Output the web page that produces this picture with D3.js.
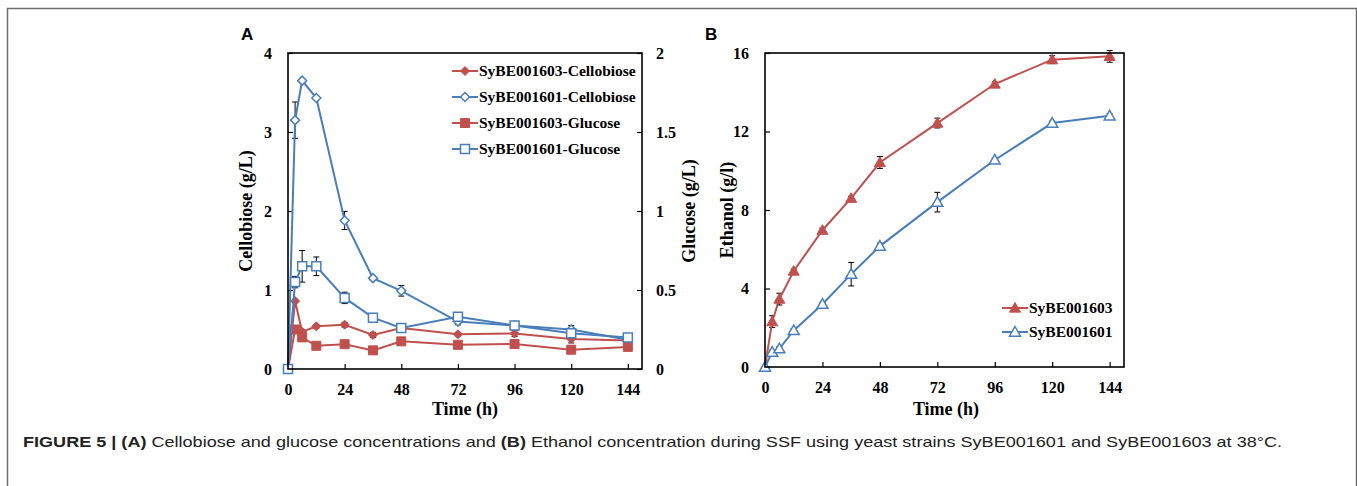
<!DOCTYPE html>
<html>
<head>
<meta charset="utf-8">
<script src="https://cdn.jsdelivr.net/npm/d3@7"></script>
<style>
  body { margin: 0; background: #fff; }
  svg { display: block; }
</style>
</head>
<body>
<div id="chart"></div>
<script>
// sampling times (h)
var times = [0, 3, 6, 12, 24, 36, 48, 72, 96, 120, 144];

// panel A - cellobiose (left axis, g/L)
var cello1603 = [0, 0.86, 0.47, 0.54, 0.56, 0.43, 0.52, 0.44, 0.45, 0.38, 0.36];
var cello1603Err = [0, 0.02, 0.03, 0.02, 0.03, 0.03, 0.04, 0.02, 0.04, 0.05, 0.02];
var cello1601 = [0, 3.15, 3.65, 3.43, 1.88, 1.15, 0.99, 0.60, 0.55, 0.50, 0.37];
var cello1601Err = [0, 0.23, 0.02, 0.02, 0.115, 0.03, 0.067, 0.04, 0.04, 0.05, 0.03];

// panel A - glucose (right axis, g/L)
var glu1603 = [0, 0.25, 0.20, 0.147, 0.157, 0.118, 0.175, 0.153, 0.158, 0.122, 0.14];
var glu1603Err = [0, 0.01, 0.01, 0.01, 0.01, 0.01, 0.01, 0.01, 0.02, 0.01, 0.01];
var glu1601 = [0, 0.55, 0.65, 0.65, 0.45, 0.325, 0.26, 0.33, 0.275, 0.227, 0.20];
var glu1601Err = [0, 0.036, 0.1, 0.059, 0.036, 0.026, 0.01, 0.02, 0.02, 0.02, 0.015];

// panel B - ethanol (g/l)
var eth1603 = [0, 2.31, 3.46, 4.89, 6.97, 8.6, 10.42, 12.43, 14.42, 15.66, 15.83];
var eth1603Err = [0, 0.3, 0.3, 0.1, 0.1, 0.1, 0.3, 0.25, 0.1, 0.2, 0.3];
var eth1601 = [0, 0.76, 0.93, 1.86, 3.2, 4.73, 6.16, 8.4, 10.55, 12.43, 12.8];
var eth1601Err = [0, 0.1, 0.1, 0.1, 0.1, 0.6, 0.15, 0.5, 0.1, 0.1, 0.1];

var xTicks = [0, 24, 48, 72, 96, 120, 144];
var cellTicks = [0, 1, 2, 3, 4];
var gluTicks = [0, 0.5, 1, 1.5, 2];
var ethTicks = [0, 4, 8, 12, 16];

var legendA = ["SyBE001603-Cellobiose", "SyBE001601-Cellobiose", "SyBE001603-Glucose", "SyBE001601-Glucose"];
var legendB = ["SyBE001603", "SyBE001601"];

var red = "#C0504D", blue = "#4A7EBB";
var serif = '"Liberation Serif", "Times New Roman", serif';
var sans = '"Liberation Sans", Arial, sans-serif';
var plain = d3.format("");

// marker shapes, centered at 0,0
function shape(kind, r) {
    if (kind == "diamond") return "M0," + (-r) + "L" + r + ",0L0," + r + "L" + (-r) + ",0Z";
    if (kind == "square") return "M" + (-r) + "," + (-r) + "H" + r + "V" + r + "H" + (-r) + "Z";
    return "M0," + (-r) + "L" + r + "," + (r * 0.75) + "L" + (-r) + "," + (r * 0.75) + "Z"; // triangle
}

var svg = d3.select("#chart").append("svg")
    .attr("width", 1357)
    .attr("height", 486);

// outer frame (open at the bottom)
svg.append("path")
    .attr("d", "M7.5,490V8.5H1356.5V490")
    .attr("fill", "none")
    .attr("stroke", "#6e6e6e")
    .attr("stroke-width", 1.5);

function styleAxis(g) {
    g.select(".domain").remove();
    g.selectAll(".tick line").attr("stroke", "#000").attr("stroke-width", 1.2);
    g.selectAll(".tick text")
        .attr("fill", "#000")
        .style("font-family", serif)
        .style("font-weight", "bold")
        .style("font-size", "16px");
}

function drawSeries(g, x, y, vals, errs, color, kind, r, filled) {
    var pts = times.map(function(t, i) { return { t: t, v: vals[i], e: errs[i] }; });

    var eb = g.append("g");
    pts.forEach(function(d) {
        if (d.e <= 0) return;
        var cx = x(d.t), y1 = y(d.v - d.e), y2 = y(d.v + d.e);
        eb.append("line").attr("x1", cx).attr("x2", cx).attr("y1", y1).attr("y2", y2);
        eb.append("line").attr("x1", cx - 3).attr("x2", cx + 3).attr("y1", y1).attr("y2", y1);
        eb.append("line").attr("x1", cx - 3).attr("x2", cx + 3).attr("y1", y2).attr("y2", y2);
    });
    eb.selectAll("line").attr("stroke", "#000").attr("stroke-width", 1);

    g.append("path")
        .datum(pts)
        .attr("fill", "none")
        .attr("stroke", color)
        .attr("stroke-width", 2)
        .attr("d", d3.line().x(function(d) { return x(d.t); }).y(function(d) { return y(d.v); }));

    g.selectAll(null)
        .data(pts)
        .enter()
        .append("path")
        .attr("transform", function(d) { return "translate(" + x(d.t) + "," + y(d.v) + ")"; })
        .attr("d", shape(kind, r))
        .attr("fill", filled ? color : "#fff")
        .attr("stroke", color)
        .attr("stroke-width", filled ? 1 : 1.5);
}

function legendRow(g, x0, yy, text, color, kind, r, filled) {
    g.append("line")
        .attr("x1", x0).attr("x2", x0 + 26)
        .attr("y1", yy).attr("y2", yy)
        .attr("stroke", color).attr("stroke-width", 2);
    g.append("path")
        .attr("transform", "translate(" + (x0 + 13) + "," + yy + ")")
        .attr("d", shape(kind, r))
        .attr("fill", filled ? color : "#fff")
        .attr("stroke", color)
        .attr("stroke-width", filled ? 1 : 1.5);
    g.append("text")
        .attr("x", x0 + 27)
        .attr("y", yy + 5)
        .style("font-family", serif)
        .style("font-weight", "bold")
        .style("font-size", "15.5px")
        .text(text);
}

function frame(g, w, h) {
    g.append("rect")
        .attr("width", w).attr("height", h)
        .attr("fill", "none")
        .attr("stroke", "#000")
        .attr("stroke-width", 1.6);
}

function axisTitle(x, y, text, rotate) {
    svg.append("text")
        .attr("transform", "translate(" + x + "," + y + ")" + (rotate ? "rotate(-90)" : ""))
        .attr("text-anchor", "middle")
        .style("font-family", serif)
        .style("font-weight", "bold")
        .style("font-size", "18px")
        .text(text);
}

// ---------- panel A ----------
var aL = 288, aT = 53, aW = 354, aH = 316;
var gA = svg.append("g").attr("transform", "translate(" + aL + "," + aT + ")");

var xA = d3.scaleLinear().domain([0, 150]).range([0, aW]);
var yCell = d3.scaleLinear().domain([0, 4]).range([aH, 0]);
var yGlu = d3.scaleLinear().domain([0, 2]).range([aH, 0]);

gA.append("g").attr("transform", "translate(0," + aH + ")")
    .call(d3.axisBottom(xA).tickValues(xTicks).tickSize(-5).tickPadding(15).tickFormat(plain))
    .call(styleAxis);
gA.append("g")
    .call(d3.axisLeft(yCell).tickValues(cellTicks).tickSize(-5).tickPadding(16).tickFormat(plain))
    .call(styleAxis);
gA.append("g").attr("transform", "translate(" + aW + ",0)")
    .call(d3.axisRight(yGlu).tickValues(gluTicks).tickSize(-5).tickPadding(14).tickFormat(plain))
    .call(styleAxis);

drawSeries(gA, xA, yCell, cello1603, cello1603Err, red, "diamond", 4.5, true);
drawSeries(gA, xA, yCell, cello1601, cello1601Err, blue, "diamond", 4.5, false);
drawSeries(gA, xA, yGlu, glu1603, glu1603Err, red, "square", 4.5, true);
drawSeries(gA, xA, yGlu, glu1601, glu1601Err, blue, "square", 4.5, false);
frame(gA, aW, aH);

var legA = svg.append("g");
legendRow(legA, 452, 71, legendA[0], red, "diamond", 4.5, true);
legendRow(legA, 452, 97, legendA[1], blue, "diamond", 4.5, false);
legendRow(legA, 452, 123, legendA[2], red, "square", 4.5, true);
legendRow(legA, 452, 149, legendA[3], blue, "square", 4.5, false);

axisTitle(465, 415, "Time (h)", false);
axisTitle(252, aT + aH / 2, "Cellobiose (g/L)", true);
axisTitle(695, aT + aH / 2, "Glucose (g/L)", true);

// ---------- panel B ----------
var bL = 765, bT = 53, bW = 359, bH = 314;
var gB = svg.append("g").attr("transform", "translate(" + bL + "," + bT + ")");

var xB = d3.scaleLinear().domain([0, 150]).range([0, bW]);
var yEth = d3.scaleLinear().domain([0, 16]).range([bH, 0]);

gB.append("g").attr("transform", "translate(0," + bH + ")")
    .call(d3.axisBottom(xB).tickValues(xTicks).tickSize(-5).tickPadding(15).tickFormat(plain))
    .call(styleAxis);
gB.append("g")
    .call(d3.axisLeft(yEth).tickValues(ethTicks).tickSize(-5).tickPadding(16).tickFormat(plain))
    .call(styleAxis);

drawSeries(gB, xB, yEth, eth1603, eth1603Err, red, "triangle", 5.5, true);
drawSeries(gB, xB, yEth, eth1601, eth1601Err, blue, "triangle", 5.5, false);
frame(gB, bW, bH);

var legB = svg.append("g");
legendRow(legB, 1002, 308, legendB[0], red, "triangle", 5.5, true);
legendRow(legB, 1002, 332, legendB[1], blue, "triangle", 5.5, false);

axisTitle(946, 415, "Time (h)", false);
axisTitle(733, bT + bH / 2, "Ethanol (g/l)", true);

// panel letters
svg.append("text").attr("x", 241).attr("y", 40)
    .style("font-family", sans).style("font-weight", "bold").style("font-size", "17px").text("A");
svg.append("text").attr("x", 705).attr("y", 40)
    .style("font-family", sans).style("font-weight", "bold").style("font-size", "17px").text("B");

// caption
var cap = svg.append("text")
    .attr("x", 23).attr("y", 447)
    .attr("textLength", 1259)
    .attr("lengthAdjust", "spacingAndGlyphs")
    .style("font-family", sans)
    .style("font-size", "15px")
    .style("fill", "#222");
cap.append("tspan").style("font-weight", "bold").text("FIGURE 5 | (A)");
cap.append("tspan").text(" Cellobiose and glucose concentrations and ");
cap.append("tspan").style("font-weight", "bold").text("(B)");
cap.append("tspan").text(" Ethanol concentration during SSF using yeast strains SyBE001601 and SyBE001603 at 38\u00B0C.");
</script>
</body>
</html>
